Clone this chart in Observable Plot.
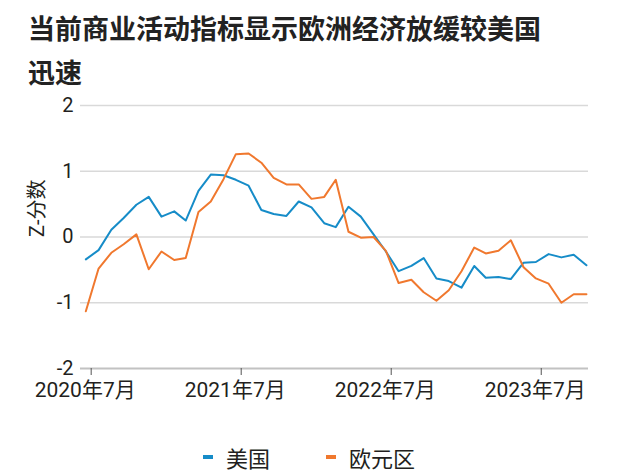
<!DOCTYPE html>
<html><head><meta charset="utf-8">
<script src="https://cdn.jsdelivr.net/npm/d3@7"></script>
<script src="https://cdn.jsdelivr.net/npm/@observablehq/plot@0.6"></script>
<style>
body{margin:0;background:#fff;}
#wrap{position:relative;width:640px;height:475px;overflow:hidden;font-family:Roboto,"Noto Sans CJK SC",sans-serif;color:#231f20;}
#title{position:absolute;left:28px;top:6px;font-family:"Noto Sans CJK SC",sans-serif;font-weight:700;font-size:27px;line-height:44px;color:#222;white-space:nowrap;}
#chart{position:absolute;left:0;top:90px;}
#legend{position:absolute;left:203px;top:441px;height:32px;display:flex;align-items:center;font-family:"Noto Sans CJK SC",sans-serif;font-size:22px;color:#231f20;}
.item{display:flex;align-items:center;margin-right:56px;}
.sw{width:10px;height:4px;margin-right:13px;}
</style>
</head><body>
<div id="wrap">
  <div id="title">当前商业活动指标显示欧洲经济放缓较美国<br>迅速</div>
  <div id="chart"></div>
  <div id="legend"></div>
</div>
<script>
const months = ["2020-07","2020-08","2020-09","2020-10","2020-11","2020-12",
  "2021-01","2021-02","2021-03","2021-04","2021-05","2021-06","2021-07","2021-08","2021-09","2021-10","2021-11","2021-12",
  "2022-01","2022-02","2022-03","2022-04","2022-05","2022-06","2022-07","2022-08","2022-09","2022-10","2022-11","2022-12",
  "2023-01","2023-02","2023-03","2023-04","2023-05","2023-06","2023-07","2023-08","2023-09","2023-10","2023-11"];
const usValues = [-0.34,-0.20,0.11,0.29,0.49,0.61,0.31,0.39,0.25,0.70,0.95,0.94,0.87,0.78,0.41,0.35,0.32,0.54,0.45,0.21,
  0.15,0.46,0.31,0.04,-0.22,-0.52,-0.44,-0.32,-0.63,-0.67,-0.77,-0.44,-0.62,-0.61,-0.64,-0.39,-0.38,-0.26,-0.31,-0.27,-0.43];
const euroValues = [-1.13,-0.48,-0.24,-0.11,0.04,-0.49,-0.22,-0.35,-0.32,0.38,0.54,0.88,1.26,1.27,1.13,0.90,0.80,0.80,0.58,0.61,
  0.87,0.08,-0.01,0.00,-0.21,-0.70,-0.65,-0.84,-0.97,-0.81,-0.52,-0.16,-0.25,-0.21,-0.05,-0.46,-0.63,-0.71,-1.00,-0.87,-0.87];
const seriesNames = ["美国","欧元区"];
const seriesColors = ["#168cc8","#f0782e"];
const yTicks = [-2,-1,0,1,2];
const yTickLabels = ["-2","-1","0","1","2"];
const xTickDates = ["2020-07-14","2021-07-14","2022-07-14","2023-07-14"];
const xTickLabels = ["2020年7月","2021年7月","2022年7月","2023年7月"];
const yLabel = "Z-分数";

const data = months.flatMap((m,i)=>[
  {date:new Date(m+"-01T00:00:00Z"), value:usValues[i], series:seriesNames[0]},
  {date:new Date(m+"-01T00:00:00Z"), value:euroValues[i], series:seriesNames[1]}
]);
const xTicks = xTickDates.map((d,i)=>({date:new Date(d+"T00:00:00Z"), label:xTickLabels[i]}));

const chart = Plot.plot({
  width:640, height:320, marginTop:15, marginBottom:42, marginLeft:80, marginRight:52,
  style:{fontFamily:'Roboto,"Noto Sans CJK SC",sans-serif', fontSize:"20px", color:"#231f20", background:"transparent", overflow:"visible"},
  x:{type:"utc", domain:[new Date("2020-06-18T00:00:00Z"), new Date("2023-11-06T00:00:00Z")]},
  y:{domain:[-2,2]},
  color:{domain:seriesNames, range:seriesColors},
  marks:[
    Plot.gridY(yTicks.filter(d=>d>-2), {stroke:"#d9d9d9", strokeOpacity:1, strokeWidth:1.3}),
    Plot.ruleY([-2], {stroke:"#c2c2c2", strokeWidth:2}),
    Plot.axisY(yTicks, {tickSize:0, tickPadding:7, label:null, fontSize:20,
      tickFormat:d=>yTickLabels[yTicks.indexOf(d)]}),
    Plot.axisX(xTicks.map(d=>d.date), {tickSize:7, label:null, stroke:"#555", tickFormat:()=>""}),
    Plot.text(xTicks, {x:"date", text:"label", frameAnchor:"bottom", lineAnchor:"top", dy:14, dx:-6, fontSize:21, fill:"#231f20"}),
    Plot.line(data, {x:"date", y:"value", stroke:"series", z:"series", strokeWidth:2}),
    Plot.text([yLabel], {frameAnchor:"left", dx:-43, rotate:-90, fontSize:20, fill:"#231f20"})
  ]
});
document.getElementById("chart").appendChild(chart);

const legend = document.getElementById("legend");
seriesNames.forEach((n,i)=>{
  const it = document.createElement("div"); it.className="item";
  const sw = document.createElement("span"); sw.className="sw"; sw.style.background=seriesColors[i];
  const tx = document.createElement("span"); tx.textContent=n;
  it.appendChild(sw); it.appendChild(tx); legend.appendChild(it);
});
</script>
</body></html>
